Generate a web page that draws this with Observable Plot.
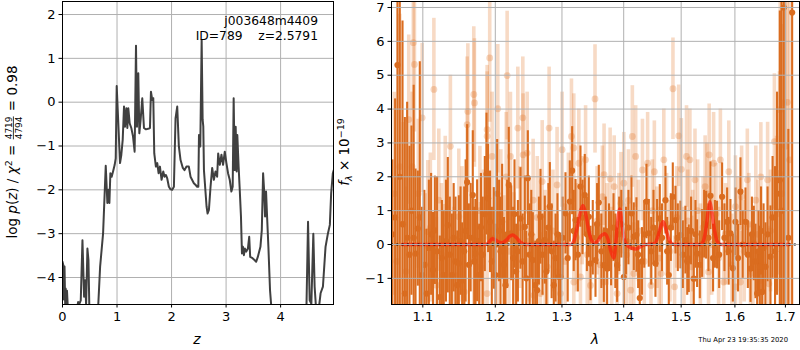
<!DOCTYPE html>
<html><head><meta charset="utf-8">
<script src="https://cdn.jsdelivr.net/npm/d3@7"></script>
<script src="https://cdn.jsdelivr.net/npm/@observablehq/plot@0.6"></script>
<style>
body{margin:0;background:#fff;}
#wrap{position:relative;width:800px;height:350px;overflow:hidden;font-family:"DejaVu Sans",sans-serif;}
</style></head><body><div id="wrap"></div>
<script>
// ---------- Left panel: log p(z) ----------
const zTicks = [0, 1, 2, 3, 4];
const logpTicks = [-4, -3, -2, -1, 0, 1, 2];
const pzCurve = [
[0.000,-3.64],[0.015,-3.72],[0.025,-4.50],[0.037,-3.75],[0.049,-4.60],[0.058,-4.25],[0.070,-4.75],[0.082,-4.30],[0.095,-4.62],[0.110,-4.85],[0.150,-5.20],[0.220,-5.00],[0.287,-4.56],[0.310,-4.60],[0.335,-4.52],[0.366,-3.15],[0.396,-4.44],[0.415,-4.06],[0.433,-4.62],[0.457,-3.34],[0.476,-3.60],[0.494,-4.80],[0.560,-5.40],[0.645,-4.90],[0.690,-3.75],[0.744,-3.00],[0.793,-1.45],[0.823,-2.30],[0.841,-2.00],[0.860,-2.30],[0.878,-1.62],[0.902,-1.70],[0.927,-1.58],[0.957,-1.43],[0.976,-1.28],[0.994,0.37],[1.018,-0.33],[1.055,-1.39],[1.079,-1.20],[1.104,-0.86],[1.128,-0.10],[1.146,-0.56],[1.171,-0.14],[1.189,-0.59],[1.207,-0.14],[1.232,-0.48],[1.262,-0.59],[1.293,-0.78],[1.323,-1.13],[1.348,1.29],[1.366,-0.56],[1.390,0.66],[1.409,-0.71],[1.433,-0.40],[1.463,0.09],[1.494,-0.59],[1.530,-0.62],[1.585,-0.60],[1.604,-0.59],[1.622,0.24],[1.646,0.05],[1.665,0.09],[1.683,-1.17],[1.713,-1.47],[1.738,-1.39],[1.762,-1.62],[1.787,-1.47],[1.817,-1.77],[1.848,-1.58],[1.872,-1.70],[1.896,-1.66],[1.921,-1.74],[1.951,-1.93],[1.982,-1.99],[2.012,-2.00],[2.043,-1.93],[2.073,-0.37],[2.104,-0.10],[2.134,-1.01],[2.165,-1.32],[2.207,-1.50],[2.238,-1.55],[2.274,-1.47],[2.317,-1.47],[2.348,-1.70],[2.409,-1.85],[2.442,-1.89],[2.470,-1.93],[2.491,-1.93],[2.503,-0.75],[2.527,-1.01],[2.552,1.42],[2.570,-0.40],[2.582,-0.55],[2.594,-1.55],[2.642,-2.38],[2.661,-2.54],[2.685,-2.46],[2.715,-1.93],[2.745,-1.50],[2.776,-1.77],[2.806,-1.58],[2.836,-1.70],[2.855,-1.17],[2.885,-1.43],[2.915,-1.20],[2.945,-1.43],[2.976,-1.13],[3.006,-1.39],[3.036,-1.62],[3.067,-1.77],[3.097,-2.04],[3.121,-1.93],[3.139,0.09],[3.158,-1.55],[3.176,-0.56],[3.194,-1.58],[3.206,-0.75],[3.230,-1.47],[3.248,-1.93],[3.273,-2.61],[3.291,-3.45],[3.309,-3.30],[3.327,-3.49],[3.345,-3.34],[3.370,-3.41],[3.400,-3.34],[3.424,-3.07],[3.442,-3.53],[3.485,-3.56],[3.521,-3.60],[3.552,-3.64],[3.582,-3.53],[3.630,-3.30],[3.655,-2.92],[3.679,-1.62],[3.697,-2.00],[3.715,-2.61],[3.733,-2.04],[3.752,-2.61],[3.776,-3.30],[3.806,-4.29],[3.850,-5.00],[3.950,-5.50],[4.200,-6.00],[4.450,-5.20],[4.473,-4.75],[4.503,-2.73],[4.533,-4.52],[4.564,-4.60],[4.600,-3.00],[4.624,-4.21],[4.655,-4.80],[4.697,-4.75],[4.733,-4.36],[4.776,-4.21],[4.824,-3.30],[4.867,-3.00],[4.903,-2.80],[4.927,-2.08],[4.958,-1.62],[4.975,-1.55]
];

// ---------- Right panel: spectrum ----------
const lamTicks = [1.1, 1.2, 1.3, 1.4, 1.5, 1.6, 1.7];
const fluxTicks = [-1, 0, 1, 2, 3, 4, 5, 6, 7];
// [lambda, flux, error]
const lightPoints = [
[1.0630,1.5,3.0],[1.0660,-0.5,2.5],[1.0700,2.3,4.5],[1.0745,0.6,3.0],[1.0780,-0.8,2.5],[1.0816,3.69,2.5],[1.0860,2.3,2.2],[1.0875,5.96,2.0],[1.0890,5.32,2.0],[1.0940,1.5,2.2],[1.0991,3.74,2.2],[1.1030,-0.6,2.1],[1.1066,0.38,2.1],[1.1100,0.5,2.2],[1.1147,4.58,2.1],[1.1180,-1.2,2.0],[1.1213,1.31,2.1],[1.1250,-0.3,2.1],[1.1300,1.1,2.1],[1.1370,2.9,2.1],[1.1420,-0.9,2.0],[1.1486,0.82,2.0],[1.1530,0.3,2.0],[1.1560,-1.4,1.9],[1.1601,3.54,2.0],[1.1611,3.93,2.0],[1.1694,4.43,2.0],[1.1703,4.18,1.9],[1.1694,-0.51,1.9],[1.1780,1.0,1.9],[1.1789,-0.66,1.9],[1.1830,0.2,2.0],[1.1883,3.39,1.9],[1.1883,3.2,1.9],[1.1883,-1.45,1.9],[1.1920,5.51,1.9],[1.1954,2.6,1.9],[1.2027,-0.96,1.9],[1.2036,4.01,1.9],[1.2080,0.9,1.9],[1.2124,-0.46,1.9],[1.2158,2.0,1.9],[1.2172,4.99,1.9],[1.2200,-0.2,1.9],[1.2220,2.6,1.9],[1.2271,-0.27,1.8],[1.2329,3.44,1.8],[1.2360,0.5,1.8],[1.2403,3.74,1.8],[1.2408,2.65,1.8],[1.2468,2.7,1.8],[1.2500,0.1,1.8],[1.2558,1.31,1.8],[1.2568,-1.5,1.8],[1.2620,0.8,1.8],[1.2669,-1.45,1.8],[1.2695,1.86,1.8],[1.2740,-0.2,1.8],[1.2771,-0.66,1.8],[1.2801,3.44,1.8],[1.2860,0.4,1.8],[1.2924,1.76,1.7],[1.2924,-0.81,1.7],[1.2977,-1.45,1.7],[1.3002,2.8,1.7],[1.3050,-0.5,1.7],[1.3100,1.1,1.6],[1.3149,3.19,1.7],[1.3186,2.85,1.6],[1.3186,-1.11,1.6],[1.3230,0.2,1.6],[1.3266,2.4,1.6],[1.3292,-0.96,1.6],[1.3320,1.0,1.6],[1.3374,2.5,1.6],[1.3400,-0.3,1.6],[1.3453,-1.21,1.6],[1.3526,4.3,1.6],[1.3560,0.7,1.6],[1.3610,-0.6,1.5],[1.3646,1.41,1.5],[1.3674,2.06,1.5],[1.3674,-1.11,1.5],[1.3720,0.3,1.5],[1.3774,1.94,1.5],[1.3800,-0.4,1.5],[1.3841,1.71,1.5],[1.3890,-1.45,1.5],[1.3920,0.6,1.5],[1.3954,1.22,1.5],[1.4002,1.81,1.5],[1.4050,-0.3,1.5],[1.4080,1.3,1.5],[1.4118,-1.35,1.5],[1.4146,3.19,1.5],[1.4171,-0.86,1.5],[1.4203,2.6,1.5],[1.4250,0.4,1.5],[1.4319,2.2,1.5],[1.4350,-0.5,1.5],[1.4408,2.4,1.5],[1.4466,-1.21,1.5],[1.4490,1.0,1.5],[1.4525,2.15,1.5],[1.4570,0.2,1.5],[1.4610,-0.4,1.5],[1.4645,-0.86,1.5],[1.4691,2.5,1.5],[1.4740,0.6,1.5],[1.4800,-0.2,1.5],[1.4853,4.6,1.5],[1.4882,-1.25,1.5],[1.4920,0.8,1.5],[1.4956,3.21,1.5],[1.5004,2.22,1.5],[1.5050,-0.4,1.5],[1.5097,2.6,1.5],[1.5120,0.7,1.5],[1.5158,2.5,1.5],[1.5190,-0.66,1.5],[1.5210,0.1,1.5],[1.5251,1.91,1.5],[1.5300,1.0,1.5],[1.5350,-0.3,1.5],[1.5400,0.5,1.5],[1.5438,1.71,1.5],[1.5470,1.5,1.5],[1.5501,-0.81,1.5],[1.5513,2.65,1.5],[1.5560,0.0,1.5],[1.5596,2.4,1.5],[1.5640,0.9,1.5],[1.5690,-0.4,1.5],[1.5723,2.5,1.5],[1.5787,-1.11,1.5],[1.5820,0.3,1.5],[1.5883,2.15,1.5],[1.5940,-0.6,1.5],[1.6010,1.12,1.5],[1.6010,-1.25,1.5],[1.6060,0.5,1.5],[1.6107,-1.11,1.5],[1.6129,1.41,1.5],[1.6180,-0.2,1.5],[1.6240,1.91,1.5],[1.6270,0.6,1.5],[1.6302,-0.86,1.5],[1.6350,-0.5,1.5],[1.6406,1.31,1.6],[1.6450,0.3,1.6],[1.6498,-1.06,1.6],[1.6506,2.0,1.6],[1.6560,-0.6,1.6],[1.6641,1.91,1.7],[1.6664,-1.16,1.7],[1.6700,0.4,1.8],[1.6777,3.04,2.0],[1.6820,0.9,2.3],[1.6880,2.1,3.0],[1.6894,3.98,4.0],[1.6930,1.5,5.0],[1.6949,4.18,6.0],[1.7000,2.9,7.0],[1.7040,4.2,8.0],[1.7087,2.5,6.0]
];
const darkPoints = [
[1.0605,0.3,2.2],[1.0640,0.8,3.5],[1.0670,5.3,9],[1.0700,2.0,8],[1.0735,0.6,6],[1.0765,-1.45,5.2],[1.0795,0.2,4.0],[1.0825,-0.3,3.2],[1.0851,1.0,2.5],[1.0880,0.2,4.5],[1.0904,-0.27,2.5],[1.0934,0.47,1.7],[1.0960,0.8,4.6],[1.0990,-0.9,2.0],[1.1020,-0.6,2.2],[1.1049,-1.45,1.9],[1.1080,-0.1,2.0],[1.1110,0.3,1.8],[1.1135,-0.75,1.7],[1.1160,0.42,1.6],[1.1190,-0.2,2.2],[1.1227,-1.55,1.8],[1.1255,-0.4,1.7],[1.1280,-0.9,1.9],[1.1310,0.1,1.8],[1.1335,0.57,2.0],[1.1362,-0.3,1.7],[1.1390,-0.9,1.8],[1.1415,0.2,1.6],[1.1440,-0.5,1.9],[1.1465,-1.2,1.6],[1.1486,-0.56,2.0],[1.1510,0.1,1.6],[1.1532,-1.06,1.7],[1.1560,-0.2,1.9],[1.1580,0.4,2.1],[1.1601,1.84,1.7],[1.1625,-0.6,1.8],[1.1650,0.2,1.6],[1.1680,1.46,1.9],[1.1700,-0.5,1.6],[1.1718,-0.27,1.6],[1.1741,0.11,1.8],[1.1770,-0.9,1.5],[1.1795,0.5,1.6],[1.1820,-0.3,1.7],[1.1850,0.9,1.7],[1.1874,2.08,1.8],[1.1897,1.36,1.6],[1.1925,0.67,1.5],[1.1950,-0.5,1.6],[1.1979,0.18,1.5],[1.2003,-0.9,1.5],[1.2027,1.5,1.6],[1.2055,0.4,1.5],[1.2075,-0.2,1.6],[1.2099,0.67,1.7],[1.2125,-0.6,1.4],[1.2148,-1.2,1.5],[1.2172,0.3,1.6],[1.2196,1.76,1.7],[1.2231,0.33,1.4],[1.2260,-0.4,1.5],[1.2280,0.9,1.6],[1.2304,-0.8,1.4],[1.2330,-0.2,1.5],[1.2368,0.77,1.5],[1.2400,-0.5,1.4],[1.2433,0.52,1.5],[1.2455,-1.0,1.4],[1.2478,1.96,1.4],[1.2505,-0.3,1.5],[1.2530,0.3,1.3],[1.2553,-0.46,1.4],[1.2590,-1.2,1.3],[1.2618,-1.35,1.4],[1.2645,0.1,1.3],[1.2669,0.82,1.4],[1.2700,-0.3,1.2],[1.2735,0.13,1.3],[1.2760,-0.8,1.2],[1.2790,0.5,1.3],[1.2812,1.12,1.3],[1.2840,-0.2,1.4],[1.2873,-1.2,1.3],[1.2900,-0.4,1.3],[1.2930,0.3,1.2],[1.2950,-0.95,1.3],[1.2977,-0.96,1.3],[1.3010,0.2,1.2],[1.3055,0.92,1.2],[1.3090,-0.4,1.3],[1.3123,1.27,1.2],[1.3160,2.18,1.3],[1.3185,0.4,1.2],[1.3213,0.72,1.2],[1.3250,-0.3,1.1],[1.3292,1.71,1.2],[1.3325,0.8,1.1],[1.3361,1.46,1.2],[1.3395,0.3,1.1],[1.3426,0.82,1.2],[1.3453,-0.56,1.1],[1.3490,0.2,1.1],[1.3534,-0.46,1.1],[1.3560,0.6,1.2],[1.3588,1.24,1.1],[1.3630,-0.2,1.1],[1.3670,-0.61,1.1],[1.3700,0.4,1.0],[1.3724,-0.71,1.1],[1.3755,0.2,1.0],[1.3790,-0.12,1.1],[1.3830,0.5,1.0],[1.3860,-0.2,1.1],[1.3890,-0.61,1.1],[1.3925,0.3,1.1],[1.3960,0.6,1.0],[1.4002,-0.96,1.1],[1.4040,0.1,1.0],[1.4080,0.5,1.1],[1.4131,0.92,1.1],[1.4171,0.23,1.0],[1.4216,0.28,1.1],[1.4245,-0.3,1.0],[1.4273,-1.58,1.1],[1.4310,-0.5,1.0],[1.4350,0.3,1.0],[1.4388,1.27,1.1],[1.4428,0.33,1.0],[1.4470,-0.2,1.0],[1.4510,0.5,1.1],[1.4544,-0.56,1.0],[1.4573,0.33,1.0],[1.4620,0.77,1.0],[1.4660,0.2,1.0],[1.4720,1.31,1.0],[1.4750,-0.2,1.0],[1.4779,-0.9,1.0],[1.4815,0.5,1.0],[1.4850,1.41,1.0],[1.4898,0.72,1.0],[1.4940,0.2,1.0],[1.4987,0.28,1.0],[1.5030,-0.3,1.0],[1.5077,0.13,1.0],[1.5110,-0.5,1.0],[1.5138,-0.42,1.0],[1.5180,0.4,1.0],[1.5229,-1.01,1.0],[1.5260,0.3,1.0],[1.5290,-0.27,1.0],[1.5340,-0.6,1.0],[1.5382,0.03,1.0],[1.5420,0.6,1.0],[1.5456,0.57,1.0],[1.5500,0.2,1.0],[1.5537,1.44,1.0],[1.5586,-0.4,1.0],[1.5620,0.3,1.0],[1.5661,0.28,1.0],[1.5700,-0.3,1.0],[1.5756,1.41,1.0],[1.5800,0.2,1.0],[1.5851,0.67,1.0],[1.5880,-0.2,1.0],[1.5914,0.33,1.0],[1.5960,-0.7,1.0],[1.6010,0.67,1.0],[1.6060,-0.4,1.0],[1.6107,1.56,1.0],[1.6150,0.0,1.0],[1.6204,0.67,1.0],[1.6250,-0.3,1.0],[1.6302,-0.71,1.0],[1.6330,0.3,1.1],[1.6367,0.03,1.1],[1.6400,-0.5,1.1],[1.6433,-1.45,1.2],[1.6460,-0.2,1.2],[1.6486,-0.66,1.2],[1.6510,0.4,1.3],[1.6532,-1.4,1.3],[1.6560,-0.1,1.3],[1.6598,-0.66,1.3],[1.6640,0.3,1.4],[1.6698,-0.36,1.5],[1.6740,0.8,1.8],[1.6790,-0.2,2.5],[1.6830,1.5,3.0],[1.6886,1.9,5.0],[1.6920,1.0,7],[1.6967,7.0,9],[1.7060,0.2,3.2],[1.7138,6.85,9]
];
// model (red line): [lambda, flux]
const modelLine = [
[1.073,0],[1.186,0],[1.190,0.04],[1.1955,0.17],[1.200,0.14],[1.205,0.07],[1.210,0.05],[1.216,0.13],[1.221,0.24],[1.225,0.28],[1.230,0.22],[1.236,0.08],[1.243,0.01],[1.250,0],[1.314,0],[1.319,0.12],[1.324,0.5],[1.329,0.95],[1.333,1.15],[1.337,0.95],[1.342,0.45],[1.347,0.12],[1.352,0.04],[1.357,0.1],[1.362,0.25],[1.3685,0.32],[1.374,0.15],[1.378,-0.15],[1.3835,-0.4],[1.387,0.1],[1.390,0.7],[1.3935,1.05],[1.397,0.65],[1.401,0.15],[1.406,-0.02],[1.413,-0.1],[1.420,-0.13],[1.428,-0.07],[1.436,0.0],[1.452,0.02],[1.458,0.2],[1.463,0.5],[1.468,0.67],[1.472,0.5],[1.477,0.2],[1.482,0.04],[1.488,0],[1.536,0],[1.541,0.12],[1.546,0.55],[1.5495,1.0],[1.5525,1.26],[1.556,1.0],[1.561,0.45],[1.566,0.1],[1.572,0.01],[1.578,0],[1.708,0]
];

const fmt = d => (d < 0 ? "\u2212" + Math.abs(d) : String(d));
const FONT = "DejaVu Sans";
const wrap = document.getElementById("wrap");

const pzData = pzCurve.map(([z, p]) => ({z, p}));
const left = Plot.plot({
  width: 345, height: 350,
  marginLeft: 62, marginRight: 12, marginTop: 1, marginBottom: 46,
  style: {fontFamily: FONT, fontSize: "13px", background: "transparent", overflow: "visible"},
  x: {domain: [0, 4.97]},
  y: {domain: [-4.616, 2.297]},
  marks: [
    Plot.gridX(zTicks, {stroke: "#b0b0b0", strokeOpacity: 1, strokeWidth: 1}),
    Plot.gridY(logpTicks, {stroke: "#b0b0b0", strokeOpacity: 1, strokeWidth: 1}),
    Plot.line(pzData, {x: "z", y: "p", stroke: "#404040", strokeWidth: 2, clip: true}),
    Plot.axisX({ticks: zTicks, tickSize: 3.5, tickPadding: 3.5, tickFormat: fmt, label: null, fill: "#000"}),
    Plot.axisY({ticks: logpTicks, tickSize: 3.5, tickPadding: 3.5, tickFormat: fmt, label: null, fill: "#000"}),
    Plot.frame({stroke: "#000", strokeWidth: 1})
  ]
});
left.style.position = "absolute"; left.style.left = "0px"; left.style.top = "0px";
wrap.appendChild(left);

const toObj = ([lam, f, e]) => ({lam, f, lo: f - e, hi: f + e});
const lightData = lightPoints.map(toObj);
const darkData = darkPoints.map(toObj);
const modelData = modelLine.map(([lam, f]) => ({lam, f}));

const right = Plot.plot({
  width: 460, height: 350,
  marginLeft: 51, marginRight: 1, marginTop: 1, marginBottom: 46,
  style: {fontFamily: FONT, fontSize: "13px", background: "transparent", overflow: "visible"},
  x: {type: "log", domain: [1.0594, 1.729]},
  y: {domain: [-1.772, 7.177]},
  marks: [
    Plot.ruleX(lightData, {x: "lam", y1: "lo", y2: "hi", stroke: "#e07020", strokeOpacity: 0.26, strokeWidth: 3.6, clip: true}),
    Plot.dot(lightData, {x: "lam", y: "f", r: 3.4, fill: "#e07020", fillOpacity: 0.28, stroke: "none", clip: true}),
    Plot.ruleX(darkData, {x: "lam", y1: "lo", y2: "hi", stroke: "#da6c1f", strokeWidth: 2.1, clip: true}),
    Plot.dot(darkData, {x: "lam", y: "f", r: 3.1, fill: "#da6c1f", stroke: "none", clip: true}),
    Plot.line(modelData, {x: "lam", y: "f", stroke: "#ff1a0a", strokeOpacity: 0.65, strokeWidth: 3.5, curve: "monotone-x", clip: true}),
    Plot.ruleY([0], {stroke: "#000", strokeWidth: 1.8, strokeDasharray: "2,3.3"}),
    Plot.gridX(lamTicks, {stroke: "#b0b0b0", strokeOpacity: 1, strokeWidth: 1}),
    Plot.gridY(fluxTicks, {stroke: "#b0b0b0", strokeOpacity: 1, strokeWidth: 1}),
    Plot.axisX({ticks: lamTicks, tickSize: 3.5, tickPadding: 3.5, tickFormat: d => d.toFixed(1), label: null, fill: "#000"}),
    Plot.axisY({ticks: fluxTicks, tickSize: 3.5, tickPadding: 3.5, tickFormat: fmt, label: null, fill: "#000"}),
    Plot.frame({stroke: "#000", strokeWidth: 1})
  ]
});
right.style.position = "absolute"; right.style.left = "340px"; right.style.top = "0px";
wrap.appendChild(right);

// ---------- Overlay texts ----------
const ov = d3.create("svg").attr("width", 800).attr("height", 350)
  .style("position", "absolute").style("left", "0px").style("top", "0px")
  .attr("font-family", FONT).attr("fill", "#000");
wrap.appendChild(ov.node());

ov.append("text").attr("x", 318).attr("y", 25).attr("text-anchor", "end").attr("font-size", 12.3).text("j003648m4409");
ov.append("text").attr("x", 318).attr("y", 40).attr("text-anchor", "end").attr("font-size", 12.3).style("white-space", "pre").text("ID=789    z=2.5791");

ov.append("text").attr("x", 197).attr("y", 344).attr("text-anchor", "middle").attr("font-size", 14).attr("font-style", "italic").text("z");
ov.append("text").attr("x", 595).attr("y", 344).attr("text-anchor", "middle").attr("font-size", 14).attr("font-style", "italic").text("\u03bb");

ov.append("text").attr("x", 788).attr("y", 342).attr("text-anchor", "end").attr("font-size", 6.8).text("Thu Apr 23 19:35:35 2020");

{
  const g = ov.append("g").attr("transform", "translate(17,152) rotate(-90)");
  const inner = g.append("g");
  const t1 = inner.append("text").attr("font-size", 13.5).attr("x", 0).attr("y", 0);
  t1.append("tspan").text("log ");
  t1.append("tspan").attr("font-style", "italic").text("p");
  t1.append("tspan").text("(");
  t1.append("tspan").attr("font-style", "italic").text("z");
  t1.append("tspan").text(") / ");
  t1.append("tspan").attr("font-style", "italic").text("\u03c7");
  t1.append("tspan").attr("font-size", 9.5).attr("dy", -5.5).text("2");
  t1.append("tspan").attr("dy", 5.5).style("white-space", "pre").text(" = ");
  const w1 = t1.node().getComputedTextLength();
  const num = inner.append("text").attr("font-size", 9).attr("x", w1 + 1).attr("y", -5.5).text("4719");
  const den = inner.append("text").attr("font-size", 9).attr("x", w1 + 1).attr("y", 4.5).text("4794");
  const wf = Math.max(num.node().getComputedTextLength(), den.node().getComputedTextLength()) + 2;
  inner.append("line").attr("x1", w1 + 1).attr("x2", w1 + wf - 1).attr("y1", -3.6).attr("y2", -3.6).attr("stroke", "#000").attr("stroke-width", 0.8);
  const t3 = inner.append("text").attr("font-size", 13.5).attr("x", w1 + wf).attr("y", 0).style("white-space", "pre").text(" = 0.98");
  const W = w1 + wf + t3.node().getComputedTextLength();
  inner.attr("transform", `translate(${-W / 2},0)`);
}

{
  const g = ov.append("g").attr("transform", "translate(349,152) rotate(-90)");
  const t = g.append("text").attr("font-size", 13.5).attr("text-anchor", "middle");
  t.append("tspan").attr("font-style", "italic").text("f");
  t.append("tspan").attr("font-size", 9.5).attr("font-style", "italic").attr("dy", 3).text("\u03bb");
  t.append("tspan").attr("dy", -3).style("white-space", "pre").text(" \u00d7 10");
  t.append("tspan").attr("font-size", 9.5).attr("dy", -5.5).text("\u221219");
}
</script>
</body></html>
